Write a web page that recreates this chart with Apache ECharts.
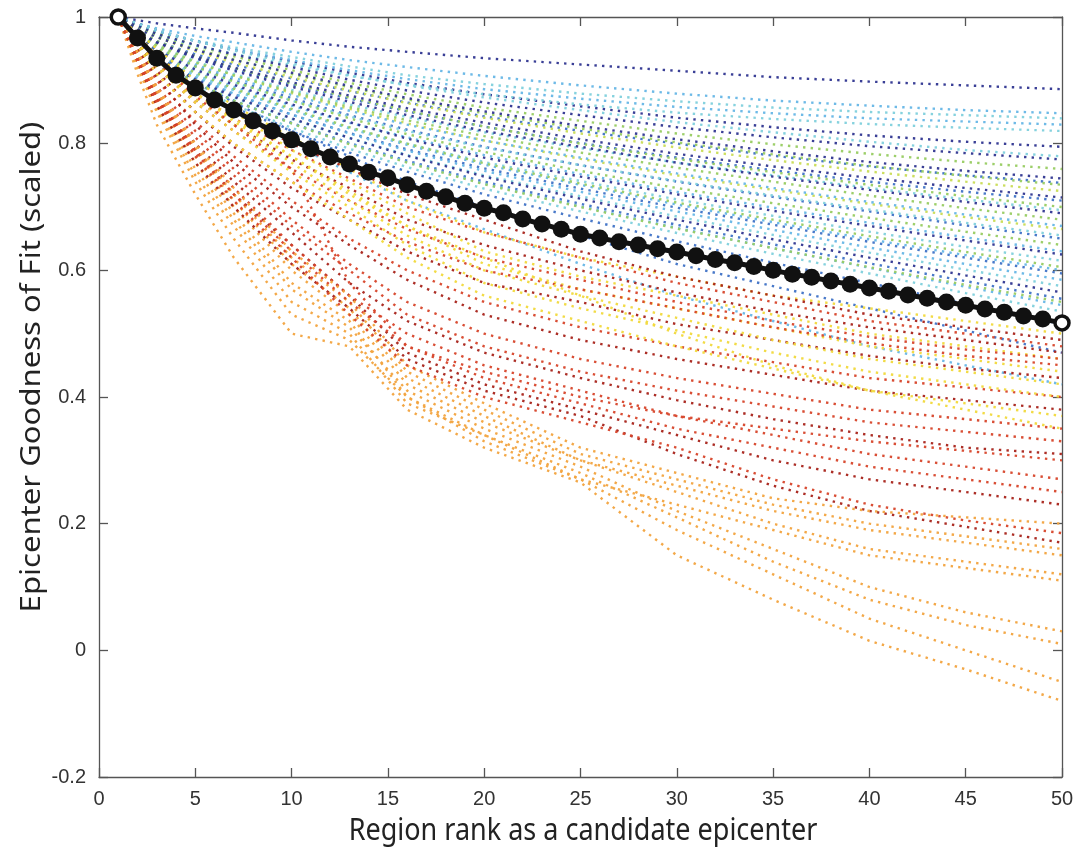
<!DOCTYPE html>
<html><head><meta charset="utf-8">
<script src="https://cdn.jsdelivr.net/npm/echarts@6/dist/echarts.min.js"></script>
<style>html,body{margin:0;padding:0;background:#fff}#c{width:1077px;height:853px}</style>
</head><body><div id="c"></div>
<script>
// ---- data ----
const X_LABEL = 'Region rank as a candidate epicenter';
const Y_LABEL = 'Epicenter Goodness of Fit (scaled)';
const RANKS = [1,2,3,4,5,6,7,8,9,10,11,12,13,14,15,16,17,18,19,20,21,22,23,24,25,26,27,28,29,30,31,32,33,34,35,36,37,38,39,40,41,42,43,44,45,46,47,48,49,50];
const MEAN_FIT = [1.000,0.967,0.935,0.908,0.888,0.869,0.853,0.836,0.820,0.806,0.792,0.779,0.768,0.755,0.746,0.735,0.725,0.716,0.706,0.698,0.691,0.681,0.673,0.665,0.657,0.651,0.645,0.640,0.634,0.629,0.623,0.617,0.612,0.606,0.600,0.594,0.589,0.583,0.578,0.572,0.567,0.561,0.556,0.550,0.545,0.539,0.534,0.528,0.523,0.517];
// ranks at which each individual curve is sampled
const KNOTS = [1,2,3,5,7,10,13,16,20,25,30,35,40,45,50];

const NAVY_LINES = [
 [1,0.995,0.99,0.982,0.975,0.963,0.953,0.945,0.935,0.925,0.915,0.905,0.898,0.892,0.886],
 [1,0.99,0.979,0.962,0.948,0.93,0.912,0.896,0.878,0.859,0.841,0.826,0.813,0.803,0.795],
 [1,0.986,0.973,0.956,0.941,0.921,0.901,0.884,0.865,0.845,0.826,0.81,0.796,0.785,0.775],
 [1,0.981,0.968,0.948,0.932,0.912,0.891,0.872,0.851,0.828,0.807,0.788,0.771,0.757,0.745],
 [1,0.976,0.96,0.938,0.92,0.897,0.876,0.856,0.833,0.807,0.784,0.764,0.746,0.73,0.715],
 [1,0.978,0.96,0.935,0.915,0.89,0.866,0.845,0.82,0.795,0.77,0.748,0.727,0.708,0.69],
 [1,0.97,0.947,0.917,0.893,0.862,0.834,0.808,0.778,0.748,0.72,0.694,0.67,0.647,0.625],
 [1,0.963,0.936,0.901,0.874,0.84,0.809,0.781,0.748,0.713,0.68,0.649,0.62,0.592,0.565]
];
const BLUE_LINES = [
 [1,0.978,0.962,0.941,0.925,0.903,0.883,0.865,0.843,0.82,0.8,0.781,0.764,0.75,0.738],
 [1,0.975,0.958,0.935,0.917,0.893,0.871,0.851,0.827,0.801,0.778,0.758,0.74,0.724,0.71],
 [1,0.972,0.95,0.922,0.9,0.872,0.845,0.822,0.795,0.766,0.74,0.716,0.693,0.671,0.65],
 [1,0.962,0.937,0.904,0.878,0.846,0.817,0.791,0.761,0.729,0.699,0.672,0.645,0.62,0.595],
 [1,0.958,0.93,0.895,0.868,0.833,0.801,0.773,0.74,0.705,0.672,0.641,0.611,0.583,0.555],
 [1,0.955,0.925,0.887,0.857,0.82,0.786,0.756,0.72,0.682,0.646,0.612,0.58,0.547,0.515],
 [1,0.97,0.945,0.9,0.865,0.82,0.78,0.74,0.70,0.655,0.61,0.575,0.54,0.505,0.47]
];
const LIGHTBLUE_LINES = [
 [1,0.99,0.982,0.97,0.96,0.945,0.932,0.921,0.907,0.892,0.879,0.868,0.86,0.853,0.848],
 [1,0.988,0.978,0.962,0.949,0.932,0.916,0.902,0.886,0.871,0.858,0.848,0.84,0.835,0.83],
 [1,0.97,0.95,0.925,0.904,0.877,0.852,0.83,0.805,0.778,0.753,0.73,0.708,0.688,0.67],
 [1,0.966,0.943,0.913,0.89,0.86,0.833,0.81,0.782,0.752,0.724,0.699,0.675,0.652,0.63],
 [1,0.963,0.94,0.909,0.885,0.853,0.824,0.798,0.767,0.735,0.704,0.676,0.649,0.624,0.60],
 [1,0.965,0.94,0.906,0.879,0.846,0.816,0.789,0.757,0.724,0.693,0.664,0.636,0.61,0.585],
 [1,0.96,0.932,0.896,0.868,0.832,0.8,0.771,0.737,0.701,0.667,0.635,0.604,0.574,0.545],
 [1,0.965,0.935,0.89,0.85,0.80,0.755,0.71,0.665,0.61,0.56,0.52,0.48,0.45,0.42]
];
const CYAN_LINES = [
 [1,0.985,0.976,0.963,0.952,0.937,0.922,0.908,0.894,0.879,0.867,0.857,0.85,0.845,0.84],
 [1,0.983,0.971,0.955,0.942,0.924,0.907,0.893,0.878,0.862,0.849,0.839,0.831,0.825,0.82],
 [1,0.99,0.98,0.962,0.947,0.927,0.908,0.892,0.873,0.853,0.834,0.818,0.803,0.79,0.78],
 [1,0.972,0.955,0.93,0.91,0.885,0.862,0.842,0.818,0.793,0.77,0.75,0.73,0.712,0.695],
 [1,0.968,0.946,0.918,0.897,0.868,0.843,0.82,0.794,0.766,0.741,0.718,0.696,0.675,0.655],
 [1,0.965,0.94,0.908,0.884,0.853,0.825,0.8,0.771,0.741,0.712,0.686,0.661,0.637,0.615],
 [1,0.96,0.934,0.9,0.873,0.839,0.809,0.782,0.75,0.717,0.685,0.656,0.628,0.601,0.575],
 [1,0.956,0.927,0.89,0.861,0.825,0.792,0.763,0.729,0.693,0.659,0.626,0.595,0.564,0.535]
];
const GREEN_LINES = [
 [1,0.988,0.975,0.955,0.938,0.916,0.896,0.878,0.857,0.836,0.816,0.799,0.784,0.771,0.76],
 [1,0.985,0.97,0.95,0.933,0.91,0.889,0.87,0.848,0.824,0.802,0.783,0.765,0.749,0.735],
 [1,0.98,0.962,0.938,0.92,0.895,0.873,0.852,0.827,0.8,0.776,0.755,0.735,0.717,0.70],
 [1,0.975,0.955,0.928,0.908,0.882,0.858,0.837,0.812,0.786,0.762,0.74,0.718,0.698,0.68],
 [1,0.974,0.952,0.922,0.898,0.868,0.84,0.815,0.787,0.757,0.73,0.706,0.683,0.661,0.64],
 [1,0.968,0.944,0.912,0.887,0.855,0.826,0.8,0.769,0.737,0.707,0.68,0.654,0.629,0.605],
 [1,0.96,0.933,0.897,0.868,0.832,0.799,0.77,0.736,0.7,0.666,0.635,0.605,0.577,0.55]
];
const YELLOWGREEN_LINES = [
 [1,0.984,0.968,0.946,0.928,0.905,0.884,0.864,0.841,0.816,0.794,0.774,0.756,0.74,0.725],
 [1,0.977,0.957,0.93,0.908,0.88,0.855,0.832,0.805,0.776,0.75,0.727,0.705,0.684,0.665]
];
const YELLOW_LINES = [
 [1,0.975,0.95,0.90,0.86,0.81,0.76,0.71,0.66,0.62,0.59,0.56,0.54,0.52,0.50],
 [1,0.97,0.94,0.89,0.85,0.79,0.74,0.69,0.63,0.59,0.56,0.53,0.50,0.48,0.46],
 [1,0.965,0.93,0.88,0.84,0.78,0.72,0.67,0.61,0.57,0.54,0.51,0.48,0.46,0.44],
 [1,0.96,0.925,0.87,0.83,0.77,0.71,0.655,0.60,0.56,0.525,0.49,0.46,0.44,0.42],
 [1,0.96,0.92,0.865,0.82,0.755,0.70,0.64,0.58,0.54,0.505,0.47,0.44,0.42,0.40],
 [1,0.955,0.91,0.85,0.80,0.74,0.68,0.62,0.56,0.52,0.48,0.445,0.41,0.39,0.37],
 [1,0.97,0.935,0.88,0.835,0.78,0.725,0.67,0.62,0.56,0.50,0.45,0.41,0.38,0.35]
];
const ORANGE_LINES = [
 [1,0.91,0.83,0.72,0.62,0.50,0.48,0.38,0.32,0.265,0.15,0.08,0.015,-0.03,-0.08],
 [1,0.92,0.85,0.74,0.65,0.53,0.49,0.40,0.33,0.27,0.19,0.12,0.05,0.0,-0.05],
 [1,0.925,0.855,0.75,0.67,0.55,0.50,0.39,0.34,0.28,0.21,0.14,0.08,0.04,0.01],
 [1,0.93,0.86,0.76,0.68,0.57,0.51,0.41,0.35,0.29,0.22,0.16,0.10,0.06,0.03],
 [1,0.935,0.87,0.77,0.69,0.58,0.52,0.40,0.34,0.27,0.23,0.19,0.15,0.13,0.11],
 [1,0.935,0.875,0.78,0.70,0.60,0.53,0.42,0.36,0.30,0.25,0.20,0.16,0.14,0.12],
 [1,0.94,0.88,0.79,0.71,0.61,0.54,0.43,0.37,0.30,0.26,0.22,0.19,0.17,0.15],
 [1,0.94,0.885,0.795,0.72,0.62,0.55,0.44,0.38,0.31,0.27,0.23,0.20,0.18,0.16],
 [1,0.945,0.89,0.80,0.73,0.63,0.56,0.45,0.39,0.32,0.28,0.24,0.22,0.21,0.20]
];
const RED_LINES = [
 [1,0.96,0.93,0.88,0.84,0.79,0.745,0.70,0.66,0.62,0.58,0.55,0.52,0.50,0.48],
 [1,0.955,0.92,0.865,0.82,0.76,0.71,0.665,0.62,0.585,0.55,0.52,0.495,0.475,0.46],
 [1,0.95,0.91,0.85,0.80,0.74,0.69,0.645,0.60,0.57,0.54,0.51,0.485,0.465,0.45],
 [1,0.945,0.90,0.835,0.78,0.71,0.65,0.60,0.55,0.51,0.48,0.455,0.43,0.415,0.40],
 [1,0.94,0.89,0.82,0.76,0.68,0.61,0.55,0.50,0.46,0.43,0.405,0.38,0.365,0.35],
 [1,0.945,0.885,0.81,0.75,0.67,0.60,0.53,0.48,0.44,0.41,0.385,0.36,0.345,0.33],
 [1,0.935,0.875,0.79,0.73,0.64,0.56,0.50,0.45,0.41,0.37,0.34,0.31,0.29,0.27],
 [1,0.93,0.865,0.785,0.72,0.63,0.55,0.48,0.43,0.39,0.35,0.32,0.29,0.27,0.25],
 [1,0.935,0.87,0.78,0.71,0.62,0.53,0.45,0.40,0.36,0.32,0.27,0.23,0.205,0.185],
 [1,0.965,0.93,0.875,0.83,0.76,0.58,0.48,0.44,0.40,0.37,0.35,0.33,0.315,0.30]
];
const DARKRED_LINES = [
 [1,0.97,0.94,0.89,0.85,0.80,0.76,0.72,0.68,0.63,0.59,0.56,0.53,0.51,0.49],
 [1,0.965,0.925,0.87,0.83,0.775,0.73,0.68,0.64,0.60,0.565,0.535,0.51,0.49,0.47],
 [1,0.96,0.915,0.85,0.795,0.73,0.68,0.63,0.58,0.55,0.515,0.49,0.465,0.445,0.43],
 [1,0.95,0.905,0.83,0.77,0.70,0.64,0.585,0.53,0.49,0.46,0.435,0.41,0.395,0.38],
 [1,0.94,0.88,0.80,0.74,0.66,0.58,0.52,0.47,0.43,0.395,0.365,0.34,0.32,0.31],
 [1,0.94,0.87,0.79,0.72,0.64,0.56,0.47,0.42,0.38,0.34,0.30,0.27,0.25,0.23],
 [1,0.93,0.86,0.77,0.70,0.61,0.54,0.46,0.41,0.37,0.31,0.26,0.22,0.195,0.17]
];

// ---- styles ----
const UPPER_GROUPS = [
 {color:'#2f3590', lines:NAVY_LINES},
 {color:'#3f72c6', lines:BLUE_LINES},
 {color:'#66b6e6', lines:LIGHTBLUE_LINES},
 {color:'#7fd0dc', lines:CYAN_LINES},
 {color:'#98cc62', lines:GREEN_LINES},
 {color:'#c9dc55', lines:YELLOWGREEN_LINES}
];
const LOWER_GROUPS = [
 {color:'#f1d93c', lines:YELLOW_LINES},
 {color:'#f2a33e', lines:ORANGE_LINES},
 {color:'#d7452a', lines:RED_LINES},
 {color:'#a8231a', lines:DARKRED_LINES}
];

function dotted(color, vals) {
  return {
    type:'line', silent:true, animation:false, symbol:'none', showSymbol:false,
    data: KNOTS.map((k,i)=>[k, vals[i]]),
    lineStyle:{color:color, width:2.4, type:[2.4,5.2], opacity:0.95},
    z:2
  };
}
function interleave(groups){
  const out=[]; const maxN=Math.max(...groups.map(g=>g.lines.length));
  for(let i=0;i<maxN;i++) groups.forEach(g=>{ if(g.lines[i]) out.push(dotted(g.color,g.lines[i])); });
  return out;
}
const series = [].concat(interleave(UPPER_GROUPS), interleave(LOWER_GROUPS));
const last = RANKS.length-1;
series.push({
  type:'line', silent:true, animation:false, clip:false, z:10,
  symbol:'circle', symbolSize:17,
  data: RANKS.map((r,i)=>{
    if(i===0||i===last) return {value:[r,MEAN_FIT[i]], symbolSize:14, itemStyle:{color:'#fff',borderColor:'#111',borderWidth:3.5}};
    return [r, MEAN_FIT[i]];
  }),
  itemStyle:{color:'#111'},
  lineStyle:{color:'#111', width:5}
});

const axisLineStyle = {color:'#555', width:1.3};
const labelStyle = {color:'#333', fontSize:20, fontFamily:'"Liberation Sans", Arial, sans-serif'};
const yFmt = v => String(Math.round(v*10)/10);

const chart = echarts.init(document.getElementById('c'), null, {renderer:'canvas'});
chart.setOption({
  backgroundColor:'#ffffff',
  animation:false,
  grid:{left:99, right:15, top:17, bottom:76, containLabel:false},
  xAxis:[
    {type:'value', min:0, max:50, interval:5, position:'bottom',
     axisLine:{show:true, onZero:false, lineStyle:axisLineStyle},
     axisTick:{show:true, inside:true, length:9, lineStyle:axisLineStyle},
     axisLabel:Object.assign({margin:12}, labelStyle),
     splitLine:{show:false}},
    {type:'value', min:0, max:50, interval:5, position:'top',
     axisLine:{show:true, onZero:false, lineStyle:axisLineStyle},
     axisTick:{show:true, inside:true, length:9, lineStyle:axisLineStyle},
     axisLabel:{show:false}, splitLine:{show:false}}
  ],
  yAxis:[
    {type:'value', min:-0.2, max:1, interval:0.2, position:'left',
     axisLine:{show:true, onZero:false, lineStyle:axisLineStyle},
     axisTick:{show:true, inside:true, length:9, lineStyle:axisLineStyle},
     axisLabel:Object.assign({margin:13, formatter:yFmt}, labelStyle),
     splitLine:{show:false}},
    {type:'value', min:-0.2, max:1, interval:0.2, position:'right',
     axisLine:{show:true, onZero:false, lineStyle:axisLineStyle},
     axisTick:{show:true, inside:true, length:9, lineStyle:axisLineStyle},
     axisLabel:{show:false}, splitLine:{show:false}}
  ],
  graphic:[
    {type:'text', x:583, y:831, scaleY:1.15, silent:true,
     style:{text:X_LABEL, fontSize:27, fontFamily:'"Noto Sans", sans-serif', fill:'#222', align:'center', verticalAlign:'middle'}},
    {type:'text', x:32, y:367, rotation:Math.PI/2, scaleX:1.15, silent:true,
     style:{text:Y_LABEL, fontSize:27, fontFamily:'"Noto Sans", sans-serif', fill:'#222', align:'center', verticalAlign:'middle'}}
  ],
  series: series
});
</script>
</body></html>
